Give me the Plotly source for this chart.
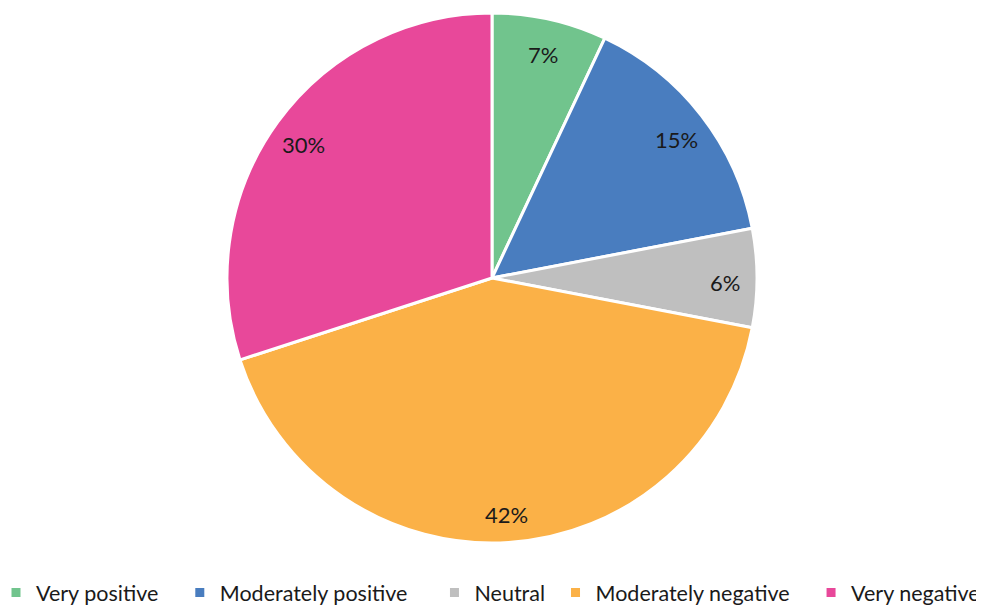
import math
import plotly.graph_objects as go

labels = ["Very positive", "Moderately positive", "Neutral", "Moderately negative", "Very negative"]
values = [7, 15, 6, 42, 30]
colors = ["#71C48D", "#497DBF", "#BFBFBF", "#FBB147", "#E8489A"]

W, H = 984, 605
OFF = 7                      # page body margin shifts the figure by this much
CX, CY, R = 491 - OFF, 277 - OFF, 265   # pie centre and radius in pixels

# non-breaking spaces after each legend entry to match the original spacing
pads = [3, 4, 1, 3, 0]
legend_names = [lab + "\u00a0" * n for lab, n in zip(labels, pads)]

fig = go.Figure(go.Pie(
    labels=legend_names,
    values=values,
    sort=False,
    direction="clockwise",
    rotation=0,
    marker=dict(colors=colors, line=dict(color="white", width=3)),
    textinfo="none",
    hoverinfo="label+percent",
    domain=dict(x=[(CX - R) / W, (CX + R) / W], y=[1 - (CY + R) / H, 1 - (CY - R) / H]),
))

# percentage labels placed near the outer part of each slice
total = sum(values)
cum = 0
annotations = []
for v in values:
    mid = (cum + v / 2) / total * 2 * math.pi
    cum += v
    px_ = CX + 0.88 * R * math.sin(mid)
    py_ = CY - 0.88 * R * math.cos(mid)
    annotations.append(dict(
        x=px_ / W, y=1 - py_ / H, xref="paper", yref="paper",
        xanchor="center", yanchor="middle", yshift=-4,
        text=f"{round(v / total * 100)}%", showarrow=False,
        font=dict(size=22, color="#1a1a1a"),
    ))

fig.update_layout(
    width=W, height=H,
    margin=dict(l=0, r=0, t=0, b=0, autoexpand=False),
    paper_bgcolor="white",
    font=dict(family="Lato, 'Open Sans', sans-serif", color="#1a1a1a"),
    annotations=annotations,
    showlegend=True,
    legend=dict(
        orientation="h", x=-12 / W, xanchor="left", y=-0.0001, yanchor="bottom",
        font=dict(size=21.5, color="#1a1a1a"), itemclick=False,
        traceorder="normal",
    ),
)

fig.write_html("out.html")
